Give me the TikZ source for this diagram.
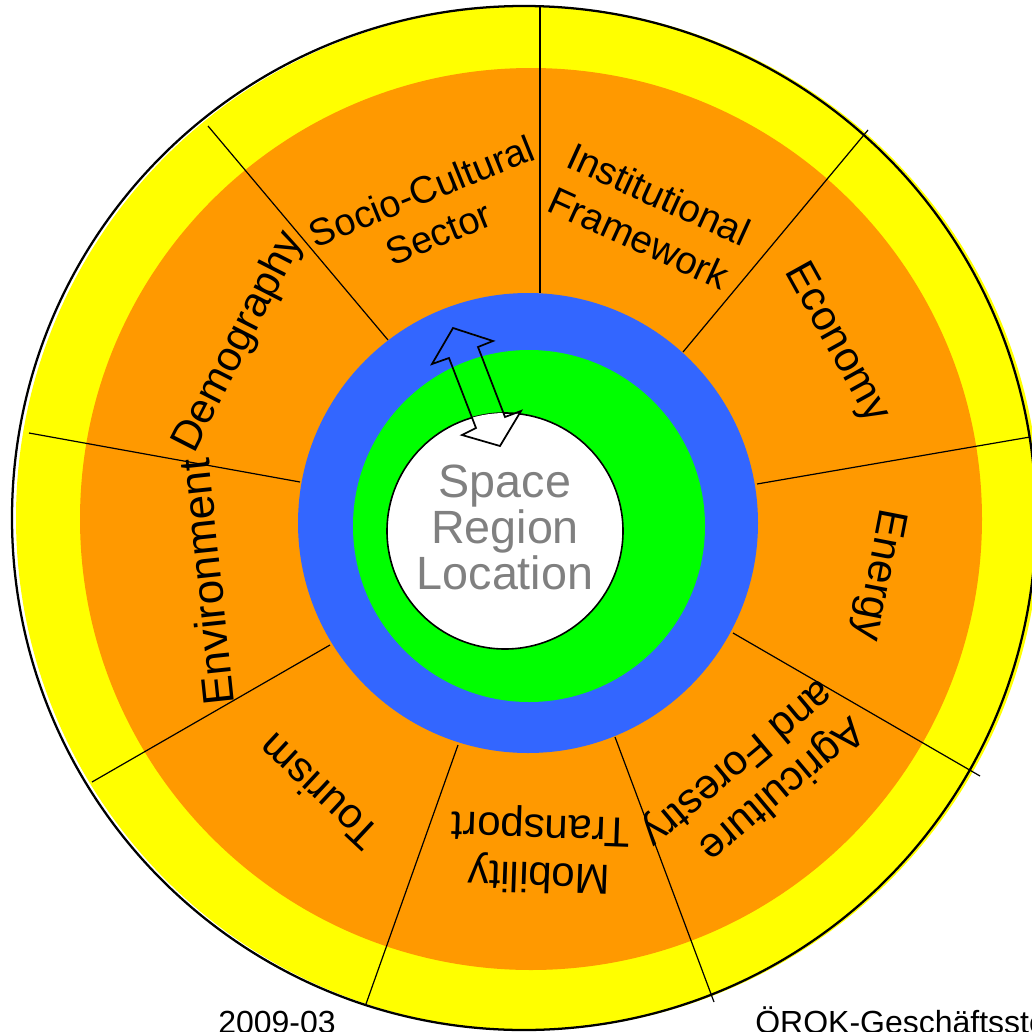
\documentclass[tikz,border=0pt]{standalone}
\usepackage{fontspec}
\setmainfont{Liberation Sans}
\definecolor{ringyellow}{RGB}{255,255,0}
\definecolor{sectororange}{RGB}{255,153,0}
\definecolor{ringblue}{RGB}{51,102,255}
\definecolor{ringgreen}{RGB}{0,255,0}
\definecolor{coregray}{RGB}{128,128,128}

\begin{document}
\begin{tikzpicture}[x=0.75pt,y=0.75pt,yscale=-1,xscale=1,
  sector/.style={font=\fontsize{31.5}{36}\selectfont, inner sep=0pt, align=center},
  divider/.style={line width=0.9pt}]
\useasboundingbox (0,0) rectangle (1032,1032);
\clip (0,0) rectangle (1032,1032);

%Shape: Circle [outer ring]
\fill [ringyellow] (528,518) circle (512);
\draw [line width=1.7pt] (524,518) circle (512);
%Shape: Circle [sectors]
\fill [sectororange] (531,519) circle (451);

%Straight Lines [sector borders]
\draw [divider] (540,6) -- (540,293);
\draw [divider] (683,352) -- (868,130);
\draw [divider] (757,484) -- (1030,437);
\draw [divider] (733,633) -- (980,776);
\draw [divider] (615,737) -- (714,1002);
\draw [divider] (458,745) -- (366,1004);
\draw [divider] (330,645) -- (92,782);
\draw [divider] (300,482) -- (29,433);
\draw [divider] (388,340) -- (208,126);

%Shape: Circle [blue ring]
\fill [ringblue] (528,523) circle (230);
%Shape: Circle [green ring]
\fill [ringgreen] (529,526) circle (176);
%Shape: Circle [core]
\draw [fill=white, line width=1.2pt] (505,531) circle (118);

%Shape: Double Arrow
\begin{scope}
\clip (505,531) circle (118);
\fill [white] (453,328) -- (493,341) -- (478,347) -- (505,417) -- (521,411) -- (500,446) -- (462,435) -- (476,428) -- (449,358) -- (432,364) -- cycle;
\end{scope}
\draw [line width=1.3pt, line join=miter] (453,328) -- (493,341) -- (478,347) -- (505,417) -- (521,411) -- (500,446) -- (462,435) -- (476,428) -- (449,358) -- (432,364) -- cycle;

% Text Node
\draw (505,527) node (core) [inner sep=0pt, align=center, text=coregray, font=\fontsize{35}{34.5}\selectfont] {Space\\Region\\Location};
% Text Node
\draw (430,212) node (socio) [sector, rotate=22, font=\fontsize{28.5}{34}\selectfont] {Socio-Cultural\\Sector};
% Text Node
\draw (649,216) node (institutional) [sector, rotate=-24.5, font=\fontsize{29}{36}\selectfont] {Institutional\\Framework};
% Text Node
\draw (836,343) node (economy) [sector, rotate=-61] {Economy};
% Text Node
\draw (878,575) node (energy) [sector, rotate=-101] {Energy};
% Text Node
\draw (752,781) node (agriculture) [sector, align=left, rotate=-140] {Agriculture\\and Forestry};
% Text Node
\draw (540,850) node (mobility) [sector, rotate=178] {Mobility\\Transport};
% Text Node
\draw (318,792) node (tourism) [sector, rotate=137] {Tourism};
% Text Node
\draw (206,582) node (environment) [sector, rotate=96, font=\fontsize{33}{36}\selectfont] {Environment};
% Text Node
\draw (239,342) node (demography) [sector, rotate=63] {Demography};

% Text Node
\draw (218,1033) node (date) [anchor=base west, inner sep=0pt, font=\fontsize{24}{28}\selectfont] {2009-03};
% Text Node
\draw (755,1033) node (office) [anchor=base west, inner sep=0pt, font=\fontsize{24}{28}\selectfont] {ÖROK-Geschäftsstelle};

\end{tikzpicture}
\end{document}
